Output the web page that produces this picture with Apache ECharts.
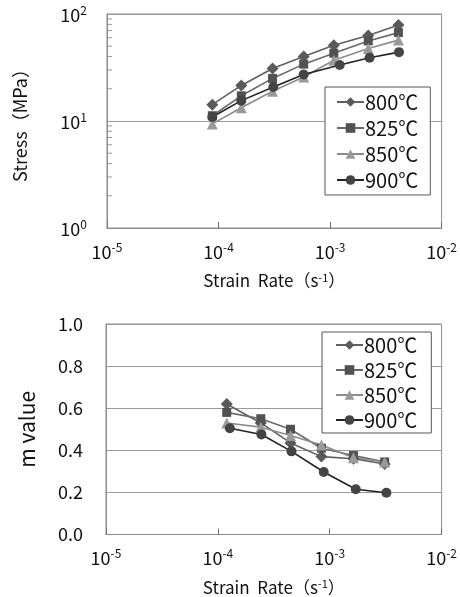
<!DOCTYPE html>
<html><head><meta charset="utf-8">
<script src="https://cdn.jsdelivr.net/npm/echarts@6/dist/echarts.min.js"></script>
<style>html,body{margin:0;padding:0;background:#fff}#c{width:460px;height:597px}</style>
</head><body><div id="c"></div>
<script>
const seriesNames = ['800℃', '825℃', '850℃', '900℃'];
// top chart: stress vs strain rate
const topX = [8.8e-5, 1.6e-4, 3.05e-4, 5.8e-4, 1.08e-3, 2.2e-3, 4.1e-3];
const topX900 = [8.8e-5, 1.6e-4, 3.1e-4, 5.8e-4, 1.22e-3, 2.26e-3, 4.15e-3];
const stress800 = [14.2, 21.5, 31, 40, 51, 63, 79];
const stress825 = [11.2, 17.2, 25, 34, 43, 56, 67];
const stress850 = [9.4, 13.3, 19, 25.8, 37, 47.5, 57];
const stress900 = [10.9, 15.5, 20.8, 27.2, 33.4, 39, 44];
// bottom chart: m value vs strain rate
const botX = [1.2e-4, 2.42e-4, 4.46e-4, 8.43e-4, 1.63e-3, 3.1e-3];
const botX900 = [1.28e-4, 2.45e-4, 4.55e-4, 8.84e-4, 1.71e-3, 3.21e-3];
const m800 = [0.62, 0.53, 0.435, 0.37, 0.36, 0.335];
const m825 = [0.58, 0.55, 0.50, 0.41, 0.375, 0.345];
const m850 = [0.53, 0.51, 0.47, 0.425, 0.365, 0.345];
const m900 = [0.505, 0.475, 0.395, 0.297, 0.215, 0.198];
// minor tick values of the stress axis (MPa)
const yMinorTicks = [2, 3, 4, 5, 6, 7, 8, 9, 20, 30, 40, 50, 60, 70, 80, 90];
const xMin = 1e-5, xMax = 1e-2;

const FONT = '"Noto Sans CJK JP", "Noto Sans", sans-serif';
const zip = (xs, ys) => xs.map((x, i) => [x, ys[i]]);
const styles = [
  {symbol: 'diamond', symbolSize: 12, color: '#5a5a5a', line: '#606060'},
  {symbol: 'rect', symbolSize: 9, color: '#525252', line: '#686868'},
  {symbol: 'triangle', symbolSize: 11, color: '#9a9a9a', line: '#8c8c8c'},
  {symbol: 'circle', symbolSize: 10, color: '#444444', line: '#222222'}
];
const sup = {fontSize: 12, verticalAlign: 'top', lineHeight: 20, fontFamily: FONT, color: '#111'};
const base = {fontSize: 18, verticalAlign: 'bottom', lineHeight: 20, fontFamily: FONT, color: '#111'};
const expFmt = v => '{b|10}{s|' + Math.round(Math.log10(v)) + '}';

function mkSeries(name, i, data, xi, yi) {
  const s = styles[i];
  return {
    name, type: 'line', xAxisIndex: xi, yAxisIndex: yi, data,
    symbol: s.symbol, symbolSize: s.symbolSize,
    itemStyle: {color: s.color},
    lineStyle: {color: s.line, width: 1.6},
    emphasis: {disabled: true}, animation: false
  };
}
const xAxisCommon = {
  type: 'log', logBase: 10, min: xMin, max: xMax,
  axisLine: {show: true, lineStyle: {color: '#8c8c8c'}},
  axisTick: {show: true, inside: true, length: 6, lineStyle: {color: '#707070'}},
  splitLine: {show: false},
  axisLabel: {formatter: expFmt, margin: 13, rich: {b: base, s: sup}},
  name: 'Strain  Rate（s{s|-1}）', nameLocation: 'middle', nameGap: 44,
  nameTextStyle: {fontSize: 17, fontFamily: FONT, color: '#111',
    rich: {s: {fontSize: 11, verticalAlign: 'top', lineHeight: 18, fontFamily: FONT, color: '#111'}}}
};
const legendCommon = {
  orient: 'vertical', data: seriesNames, itemWidth: 27, itemHeight: 12,
  backgroundColor: '#fff', borderColor: '#555', borderWidth: 1,
  textStyle: {fontSize: 20, fontFamily: FONT, color: '#111', padding: [0, 0, 0, -4]},
  selectedMode: false
};

const chart = echarts.init(document.getElementById('c'), null, {renderer: 'canvas'});
chart.setOption({
  animation: false,
  textStyle: {fontFamily: FONT},
  grid: [
    {left: 107, top: 14, width: 335, height: 214, show: true, borderColor: '#8c8c8c', backgroundColor: 'transparent'},
    {left: 106, top: 324, width: 336, height: 214, show: true, borderColor: '#8c8c8c', backgroundColor: 'transparent'}
  ],
  xAxis: [Object.assign({gridIndex: 0}, xAxisCommon), Object.assign({gridIndex: 1}, xAxisCommon)],
  yAxis: [
    {gridIndex: 0, type: 'log', logBase: 10, min: 1, max: 100,
     axisLine: {show: true, lineStyle: {color: '#8c8c8c'}}, axisTick: {show: false},
     splitLine: {show: true, lineStyle: {color: '#9a9a9a', width: 1}},
     axisLabel: {formatter: expFmt, margin: 20, rich: {b: base, s: sup}},
     name: 'Stress（MPa）', nameLocation: 'middle', nameGap: 78,
     nameTextStyle: {fontSize: 18, fontFamily: FONT, color: '#111'}},
    {gridIndex: 1, type: 'value', min: 0, max: 1, interval: 0.2,
     axisLine: {show: true, lineStyle: {color: '#8c8c8c'}}, axisTick: {show: false},
     splitLine: {show: true, lineStyle: {color: '#9a9a9a', width: 1}},
     axisLabel: {formatter: v => v.toFixed(1), margin: 23, fontSize: 18, color: '#111', fontFamily: FONT},
     name: 'm value', nameLocation: 'middle', nameGap: 68,
     nameTextStyle: {fontSize: 21, fontFamily: FONT, color: '#111'}}
  ],
  legend: [
    Object.assign({left: 325, top: 87, padding: [5, 12, 5, 11], itemGap: 6}, legendCommon),
    Object.assign({left: 322, top: 332, padding: [3, 14, 3, 13], itemGap: 5}, legendCommon)
  ],
  series: [
    // minor tick marks (2..9 per decade) on the inside of the stress axis
    {name: 'minorTicks', type: 'scatter', xAxisIndex: 0, yAxisIndex: 0,
     data: yMinorTicks.map(v => [xMin, v]), symbol: 'rect', symbolSize: [5, 1], symbolOffset: [2.5, 0],
     itemStyle: {color: '#808080'}, silent: true, clip: false, z: 1, animation: false},
    mkSeries(seriesNames[0], 0, zip(topX, stress800), 0, 0),
    mkSeries(seriesNames[1], 1, zip(topX, stress825), 0, 0),
    mkSeries(seriesNames[2], 2, zip(topX, stress850), 0, 0),
    mkSeries(seriesNames[3], 3, zip(topX900, stress900), 0, 0),
    mkSeries(seriesNames[0], 0, zip(botX, m800), 1, 1),
    mkSeries(seriesNames[1], 1, zip(botX, m825), 1, 1),
    mkSeries(seriesNames[2], 2, zip(botX, m850), 1, 1),
    mkSeries(seriesNames[3], 3, zip(botX900, m900), 1, 1)
  ]
});
</script></body></html>
